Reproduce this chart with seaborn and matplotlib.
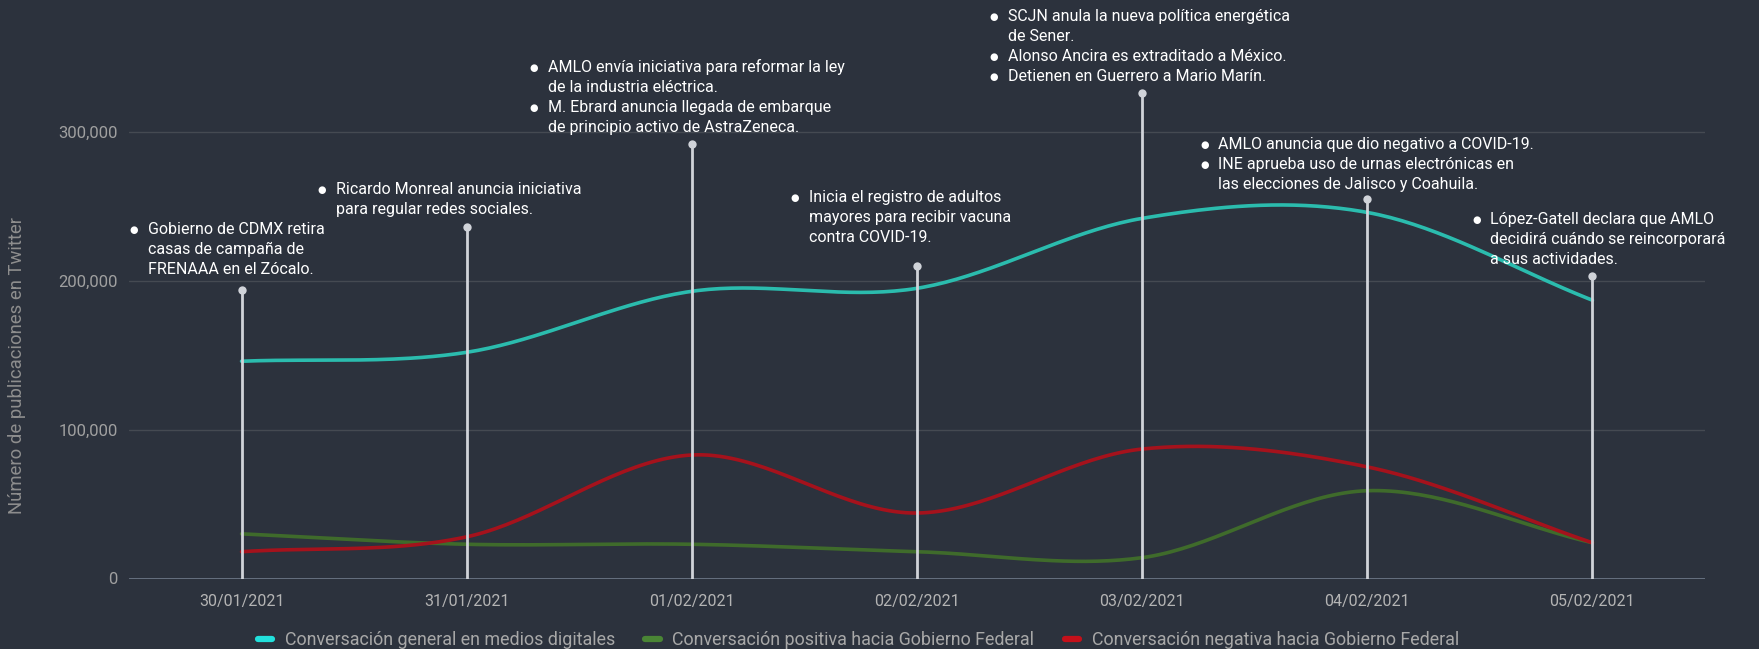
import numpy as np
import pandas as pd
import matplotlib
matplotlib.use('Agg')
import matplotlib.pyplot as plt
import seaborn as sns
from matplotlib.lines import Line2D

# Datos
fechas = ['30/01/2021', '31/01/2021', '01/02/2021', '02/02/2021',
          '03/02/2021', '04/02/2021', '05/02/2021']
general = [146000, 152000, 193000, 195000, 242000, 246000, 187000]
positiva = [30000, 23000, 23000, 18000, 14000, 59000, 24000]
negativa = [18000, 28000, 83000, 44000, 87000, 75000, 24000]
series = ['Conversación general en medios digitales',
          'Conversación positiva hacia Gobierno Federal',
          'Conversación negativa hacia Gobierno Federal']

# altura de cada marcador de evento
eventos_altura = [194000, 236500, 292000, 210000, 326500, 255000, 203000]
eventos_texto = [
    [['Gobierno de CDMX retira', 'casas de campaña de', 'FRENAAA en el Zócalo.']],
    [['Ricardo Monreal anuncia iniciativa', 'para regular redes sociales.']],
    [['AMLO envía iniciativa para reformar la ley', 'de la industria eléctrica.'],
     ['M. Ebrard anuncia llegada de embarque', 'de principio activo de AstraZeneca.']],
    [['Inicia el registro de adultos', 'mayores para recibir vacuna', 'contra COVID-19.']],
    [['SCJN anula la nueva política energética', 'de Sener.'],
     ['Alonso Ancira es extraditado a México.'],
     ['Detienen en Guerrero a Mario Marín.']],
    [['AMLO anuncia que dio negativo a COVID-19.'],
     ['INE aprueba uso de urnas electrónicas en', 'las elecciones de Jalisco y Coahuila.']],
    [['López-Gatell declara que AMLO', 'decidirá cuándo se reincorporará', 'a sus actividades.']],
]
# posicion del bloque de texto respecto al marcador (pixeles)
texto_dx = [-108, -145, -158, -122, -148, -163, -116]
texto_gap = [20, 17, 16, 28, 16, 14, 16]

bg = '#2c323d'
colores = ['#2bbcae', '#3f6b2b', '#a5121c']
colores_leyenda = ['#22e0dc', '#4a8535', '#c4101a']


def suavizar(y, n=40):
    # curva tipo spline (Catmull-Rom) entre los puntos
    y = np.asarray(y, float)
    m = np.gradient(y)
    xs, ys = [], []
    for i in range(len(y) - 1):
        t = np.linspace(0, 1, n, endpoint=(i == len(y) - 2))
        h00 = 2 * t**3 - 3 * t**2 + 1
        h10 = t**3 - 2 * t**2 + t
        h01 = -2 * t**3 + 3 * t**2
        h11 = t**3 - t**2
        xs.append(i + t)
        ys.append(h00 * y[i] + h10 * m[i] + h01 * y[i + 1] + h11 * m[i + 1])
    return np.concatenate(xs), np.concatenate(ys)


frames = []
for nombre, valores in zip(series, [general, positiva, negativa]):
    xs, ys = suavizar(valores)
    frames.append(pd.DataFrame({'x': xs, 'valor': ys, 'serie': nombre}))
df = pd.concat(frames, ignore_index=True)

sns.set_theme(style='dark', rc={'axes.facecolor': bg, 'figure.facecolor': bg})
plt.rcParams['font.family'] = ['Roboto', 'DejaVu Sans']

fig = plt.figure(figsize=(17.59, 6.49), dpi=100)
ax = fig.add_axes([129 / 1759, 70.5 / 649, 1576 / 1759, 565.5 / 649])

sns.lineplot(data=df, x='x', y='valor', hue='serie', palette=dict(zip(series, colores)),
             linewidth=2.6, legend=False, sort=False, estimator=None, ax=ax, zorder=3)

# lineas de eventos
ax.vlines(range(len(fechas)), 0, eventos_altura, color='#d0d3d9', lw=2, zorder=4)
ax.scatter(range(len(fechas)), eventos_altura, s=36, color='#d0d3d9', zorder=5, linewidths=0)

for i, bloques in enumerate(eventos_texto):
    n_lineas = sum(len(b) for b in bloques)
    k = 0
    for bloque in bloques:
        for j, linea in enumerate(bloque):
            dy = texto_gap[i] + (n_lineas - 1 - k) * 20
            if j == 0:
                ax.annotate('●', xy=(i, eventos_altura[i]), xytext=(texto_dx[i], dy),
                            textcoords='offset pixels', ha='center', va='center',
                            color='white', fontsize=7, family='DejaVu Sans',
                            annotation_clip=False)
            ax.annotate(linea, xy=(i, eventos_altura[i]), xytext=(texto_dx[i] + 14, dy - 4),
                        textcoords='offset pixels', ha='left', va='baseline',
                        color='white', fontsize=11.5, annotation_clip=False)
            k += 1

ax.set_xlim(-0.5, len(fechas) - 0.5)
ax.set_ylim(0, 380000)
ax.set_xticks(range(len(fechas)))
ax.set_xticklabels(fechas)
ax.set_yticks([0, 100000, 200000, 300000])
ax.set_yticklabels([f'{v:,}' for v in [0, 100000, 200000, 300000]])
ax.tick_params(axis='x', colors='#b4b4b4', labelsize=11.5, pad=11, length=0)
ax.tick_params(axis='y', colors='#a0a0a0', labelsize=12, pad=8, length=0)
ax.set_xlabel('')
ax.set_ylabel('')
ax.yaxis.grid(True, color='#454a52', lw=1)
ax.xaxis.grid(False)
for s in ax.spines.values():
    s.set_visible(False)
ax.axhline(0, color='#6b7585', lw=2, zorder=2)

fig.text(17 / 1759, 1 - 365 / 649, 'Número de publicaciones en Twitter', rotation=90,
         ha='center', va='center', color='#8e8e8e', fontsize=13.3)

handles = [Line2D([0], [0], color=c, lw=4.5, solid_capstyle='round') for c in colores_leyenda]
leg = fig.legend(handles, series, loc='lower center', bbox_to_anchor=(0.488, -0.025), ncol=3,
                 frameon=False, fontsize=12.9, handlelength=0.8, handletextpad=0.7,
                 columnspacing=1.7)
for t in leg.get_texts():
    t.set_color('#a8a8a8')

fig.savefig('out.png', dpi=100, facecolor=bg)
